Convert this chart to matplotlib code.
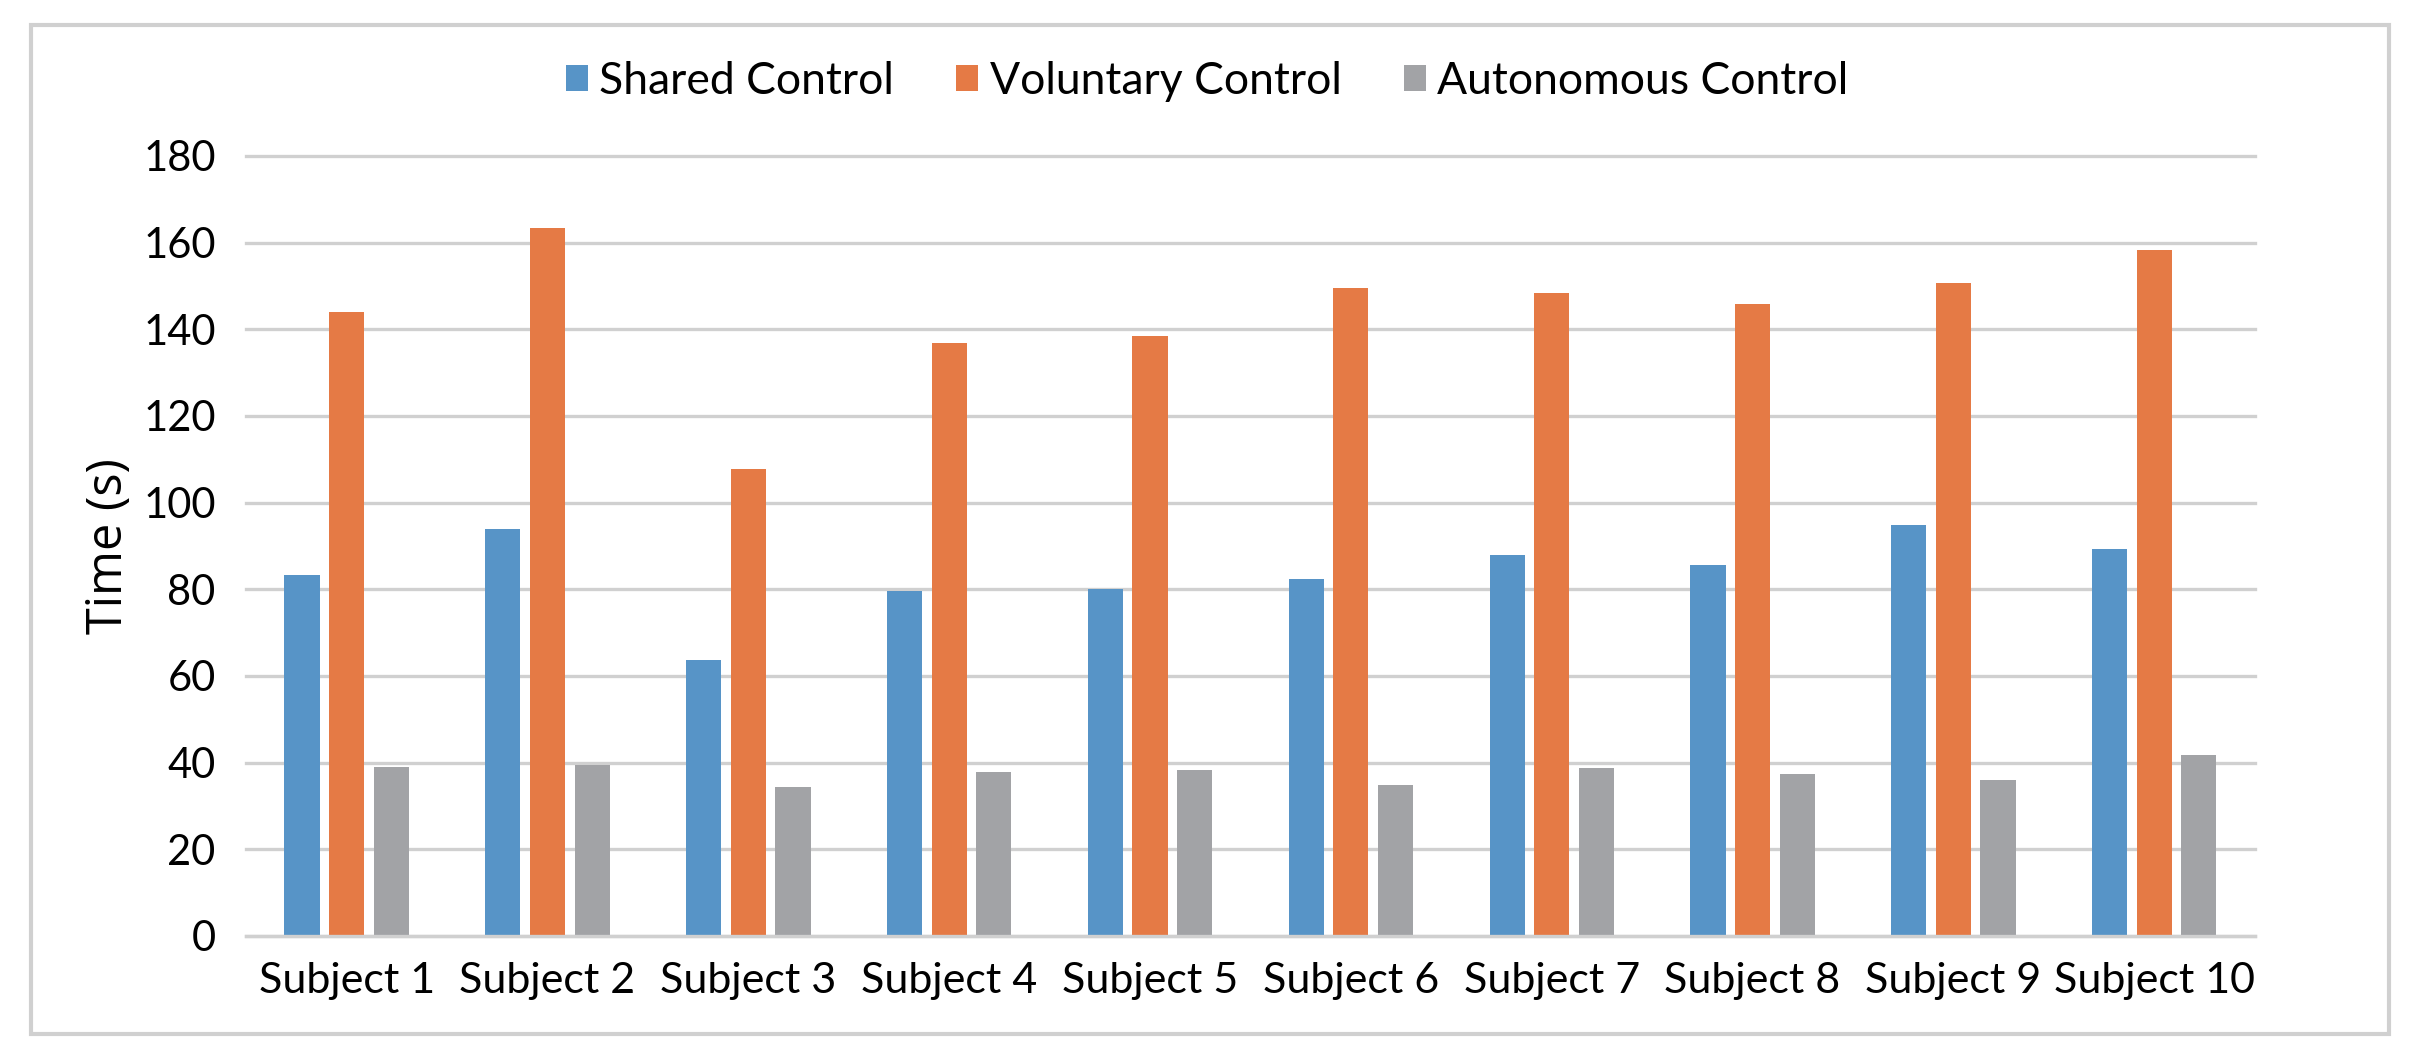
import matplotlib
matplotlib.use("Agg")
import matplotlib.pyplot as plt
import numpy as np
from matplotlib.patches import Rectangle

subjects = ["Subject 1", "Subject 2", "Subject 3", "Subject 4", "Subject 5",
            "Subject 6", "Subject 7", "Subject 8", "Subject 9", "Subject 10"]
shared = [83.4, 93.8, 63.6, 79.5, 80.1, 82.3, 87.9, 85.6, 94.8, 89.3]
voluntary = [143.9, 163.4, 107.8, 136.8, 138.4, 149.6, 148.4, 145.8, 150.7, 158.4]
autonomous = [38.9, 39.4, 34.3, 37.8, 38.2, 34.9, 38.8, 37.4, 36.0, 41.8]
series_names = ["Shared Control", "Voluntary Control", "Autonomous Control"]
yticks = [0, 20, 40, 60, 80, 100, 120, 140, 160, 180]

colors = ["#5794C7", "#E57A45", "#A2A3A6"]
narrow = ["Lato", "DejaVu Sans"]

fig = plt.figure(figsize=(24.14, 10.57), dpi=100)
ax = fig.add_axes([0.102, 0.1145, 0.832, 0.738])

x = np.arange(len(subjects))
w = 0.175
step = 0.222
for i, (vals, name) in enumerate(zip([shared, voluntary, autonomous], series_names)):
    ax.bar(x + (i - 1) * step, vals, w, color=colors[i], label=name, zorder=3)

ax.set_xlim(-0.5, len(subjects) - 0.5)
ax.set_ylim(0, 180)
ax.set_yticks(yticks)
ax.set_yticklabels([str(t) for t in yticks], family=narrow, fontsize=30)
ax.set_xticks(x)
ax.set_xticklabels(subjects, family=narrow, fontsize=31)
ax.tick_params(axis="both", length=0)
ax.tick_params(axis="y", pad=22)
ax.tick_params(axis="x", pad=19)
ax.yaxis.grid(True, color="#D0D0D0", linewidth=2.4, zorder=0)
for gl in ax.get_ygridlines():
    gl.set_clip_on(False)
ax.set_axisbelow(True)
for s in ["top", "right", "left"]:
    ax.spines[s].set_visible(False)
ax.spines["bottom"].set_color("#D0D0D0")
ax.spines["bottom"].set_linewidth(2.4)
ax.spines["bottom"].set_zorder(4)

ax.set_ylabel("Time (s)", family="Open Sans", fontsize=35)
ax.yaxis.set_label_coords(-0.056, 0.5)

leg = fig.legend(loc="center", bbox_to_anchor=(0.5, 0.923), ncol=3, frameon=False,
                 prop={"family": narrow, "size": 32}, handlelength=0.5,
                 handleheight=0.5, handletextpad=0.25, columnspacing=1.4)

fig.patches.append(Rectangle((0.0127, 0.022), 0.977, 0.954, transform=fig.transFigure,
                             fill=False, edgecolor="#D0D0D0", linewidth=3))

fig.savefig("out.png", dpi=100, facecolor="white")
